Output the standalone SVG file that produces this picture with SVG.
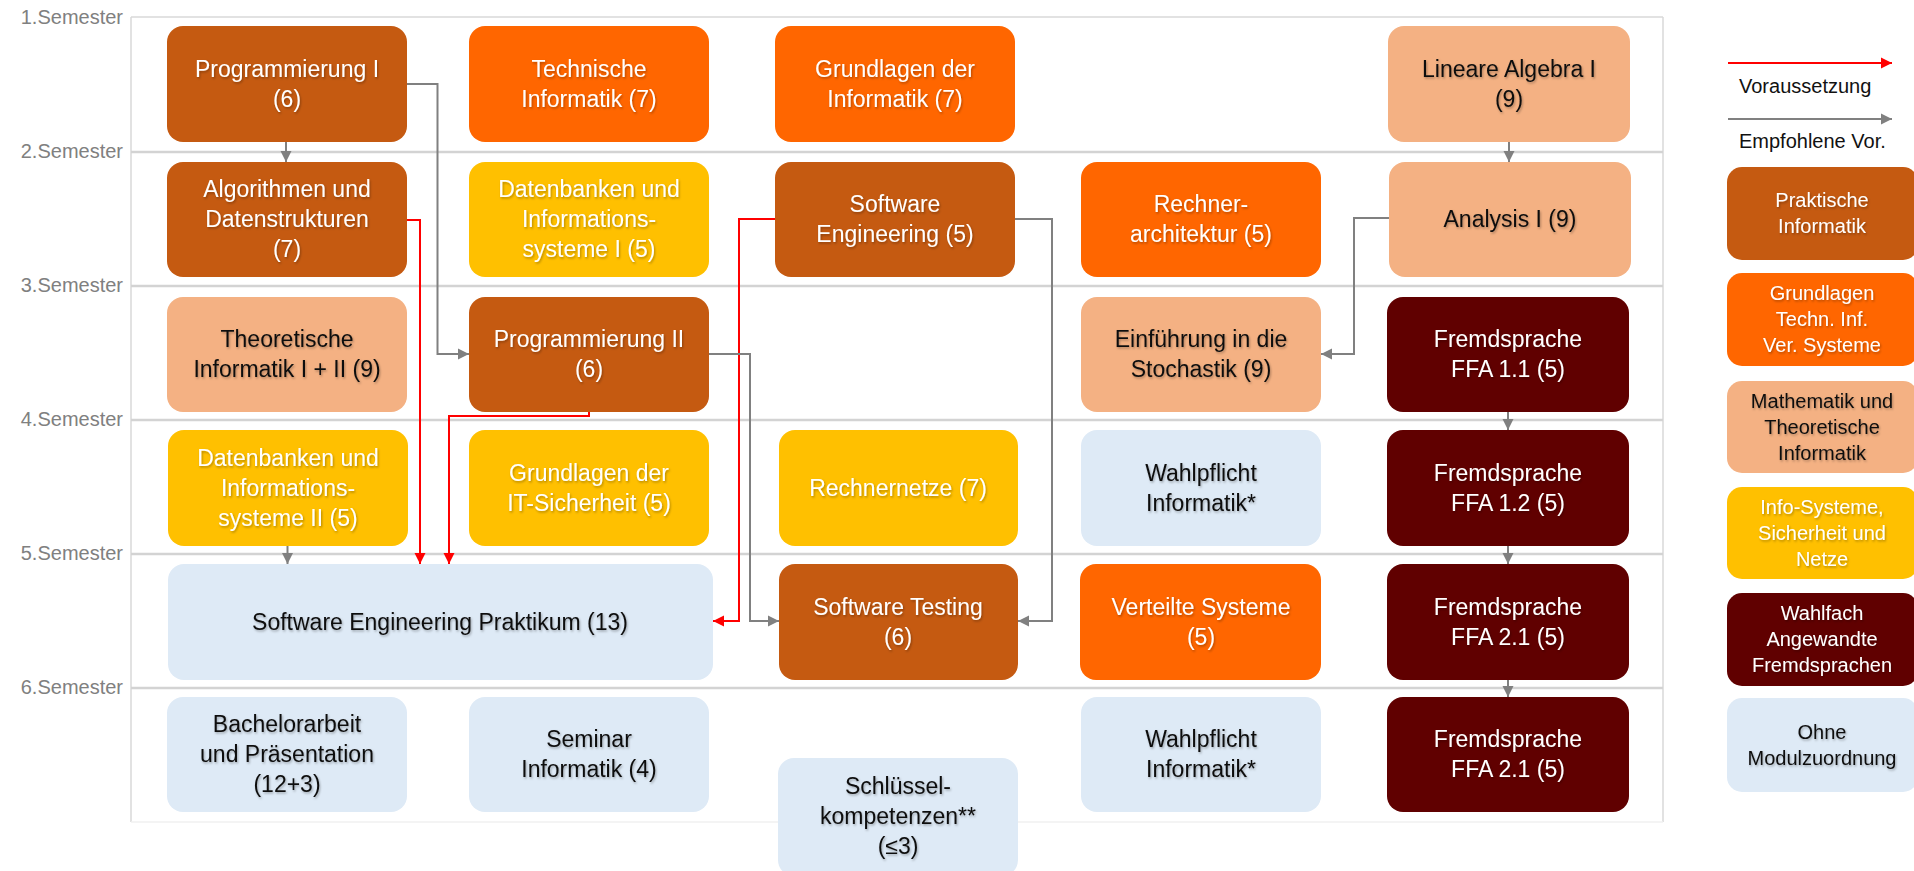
<svg xmlns="http://www.w3.org/2000/svg" width="1914" height="871" viewBox="0 0 1914 871">
<style>
.box{stroke:none}
.pi{fill:#C55A11}
.gt{fill:#FF6600}
.ma{fill:#F4B183}
.is{fill:#FFC000}
.wf{fill:#600000}
.om{fill:#DEEAF6}
text{font-family:"Liberation Sans",Arial,sans-serif;text-anchor:middle}
.t{font-size:23px;filter:url(#sh)}
.w{fill:#FFFFFF}
.k{fill:#111111}
.lg{font-size:20px}
.lb{filter:url(#sh)}
.sem{font-size:20px;fill:#808080;text-anchor:end}
.grid{stroke:#D3D3D3;stroke-width:2.5;fill:none}
.frame{stroke:#D9D9D9;stroke-width:1.5;fill:none}
.g{stroke:#808080;stroke-width:2;fill:none}
.r{stroke:#FF0000;stroke-width:2;fill:none}
</style>
<defs>
<marker id="ag" viewBox="0 0 10 10" refX="10" refY="5" markerWidth="11" markerHeight="12" markerUnits="userSpaceOnUse" orient="auto"><path d="M0,0 L10,5 L0,10 z" fill="#808080"/></marker>
<marker id="ar" viewBox="0 0 10 10" refX="10" refY="5" markerWidth="11" markerHeight="12" markerUnits="userSpaceOnUse" orient="auto"><path d="M0,0 L10,5 L0,10 z" fill="#FF0000"/></marker>
<filter id="sh" x="-5%" y="-20%" width="110%" height="150%"><feDropShadow dx="1" dy="1.5" stdDeviation="1" flood-color="#000000" flood-opacity="0.3"/></filter>
</defs>
<rect x="0" y="0" width="1914" height="871" fill="#FFFFFF"/>

<g id="grid">
<line class="frame" x1="131" y1="17" x2="1663" y2="17"/>
<line class="frame" x1="131" y1="17" x2="131" y2="822" stroke="#C8C8C8"/>
<line class="frame" x1="1663" y1="17" x2="1663" y2="822"/>
<line x1="131" y1="822" x2="1663" y2="822" stroke="#F0F0F0" stroke-width="1.5"/>
<line class="grid" x1="131" y1="152" x2="1663" y2="152"/>
<line class="grid" x1="131" y1="286" x2="1663" y2="286"/>
<line class="grid" x1="131" y1="420" x2="1663" y2="420"/>
<line class="grid" x1="131" y1="554" x2="1663" y2="554"/>
<line class="grid" x1="131" y1="688" x2="1663" y2="688"/>
<text class="sem" x="123" y="24">1.Semester</text>
<text class="sem" x="123" y="158">2.Semester</text>
<text class="sem" x="123" y="292">3.Semester</text>
<text class="sem" x="123" y="426">4.Semester</text>
<text class="sem" x="123" y="560">5.Semester</text>
<text class="sem" x="123" y="694">6.Semester</text>
</g>

<g id="connectors">
<path class="g" d="M286,142 V162" marker-end="url(#ag)"/>
<path class="g" d="M406,84 H437.5 V354 H469" marker-end="url(#ag)"/>
<path class="r" d="M407,220 H420 V564" marker-end="url(#ar)"/>
<path class="r" d="M589,412 V416 H449 V564" marker-end="url(#ar)"/>
<path class="g" d="M287.5,546 V564" marker-end="url(#ag)"/>
<path class="r" d="M775,219 H739 V621 H713" marker-end="url(#ar)"/>
<path class="g" d="M1015,219 H1052 V621 H1018" marker-end="url(#ag)"/>
<path class="g" d="M709,354 H750 V621 H779" marker-end="url(#ag)"/>
<path class="g" d="M1509,142 V162" marker-end="url(#ag)"/>
<path class="g" d="M1389,218 H1354 V354 H1321" marker-end="url(#ag)"/>
<path class="g" d="M1508,412 V430" marker-end="url(#ag)"/>
<path class="g" d="M1508,546 V564" marker-end="url(#ag)"/>
<path class="g" d="M1508,680 V697" marker-end="url(#ag)"/>
</g>

<g id="prog1"><rect class="box pi" x="167" y="26" width="240" height="116" rx="16"/><text class="t w" x="287" y="77">Programmierung I</text><text class="t w" x="287" y="107">(6)</text></g>
<g id="techinf"><rect class="box gt" x="469" y="26" width="240" height="116" rx="16"/><text class="t w" x="589" y="77">Technische</text><text class="t w" x="589" y="107">Informatik (7)</text></g>
<g id="grundinf"><rect class="box gt" x="775" y="26" width="240" height="116" rx="16"/><text class="t w" x="895" y="77">Grundlagen der</text><text class="t w" x="895" y="107">Informatik (7)</text></g>
<g id="linalg"><rect class="box ma" x="1388" y="26" width="242" height="116" rx="16"/><text class="t k" x="1509" y="77">Lineare Algebra I</text><text class="t k" x="1509" y="107">(9)</text></g>

<g id="algo"><rect class="box pi" x="167" y="162" width="240" height="115" rx="16"/><text class="t w" x="287" y="197">Algorithmen und</text><text class="t w" x="287" y="227">Datenstrukturen</text><text class="t w" x="287" y="257">(7)</text></g>
<g id="db1"><rect class="box is" x="469" y="162" width="240" height="115" rx="16"/><text class="t w" x="589" y="197">Datenbanken und</text><text class="t w" x="589" y="227">Informations-</text><text class="t w" x="589" y="257">systeme I (5)</text></g>
<g id="se"><rect class="box pi" x="775" y="162" width="240" height="115" rx="16"/><text class="t w" x="895" y="212">Software</text><text class="t w" x="895" y="242">Engineering (5)</text></g>
<g id="rechnerarch"><rect class="box gt" x="1081" y="162" width="240" height="115" rx="16"/><text class="t w" x="1201" y="212">Rechner-</text><text class="t w" x="1201" y="242">architektur (5)</text></g>
<g id="analysis"><rect class="box ma" x="1389" y="162" width="242" height="115" rx="16"/><text class="t k" x="1510" y="227">Analysis I (9)</text></g>

<g id="theoinf"><rect class="box ma" x="167" y="297" width="240" height="115" rx="16"/><text class="t k" x="287" y="347">Theoretische</text><text class="t k" x="287" y="377">Informatik I + II (9)</text></g>
<g id="prog2"><rect class="box pi" x="469" y="297" width="240" height="115" rx="16"/><text class="t w" x="589" y="347">Programmierung II</text><text class="t w" x="589" y="377">(6)</text></g>
<g id="stochastik"><rect class="box ma" x="1081" y="297" width="240" height="115" rx="16"/><text class="t k" x="1201" y="347">Einführung in die</text><text class="t k" x="1201" y="377">Stochastik (9)</text></g>
<g id="ffa11"><rect class="box wf" x="1387" y="297" width="242" height="115" rx="16"/><text class="t w" x="1508" y="347">Fremdsprache</text><text class="t w" x="1508" y="377">FFA 1.1 (5)</text></g>

<g id="db2"><rect class="box is" x="168" y="430" width="240" height="116" rx="16"/><text class="t w" x="288" y="466">Datenbanken und</text><text class="t w" x="288" y="496">Informations-</text><text class="t w" x="288" y="526">systeme II (5)</text></g>
<g id="itsich"><rect class="box is" x="469" y="430" width="240" height="116" rx="16"/><text class="t w" x="589" y="481">Grundlagen der</text><text class="t w" x="589" y="511">IT-Sicherheit (5)</text></g>
<g id="rechnernetze"><rect class="box is" x="779" y="430" width="239" height="116" rx="16"/><text class="t w" x="898" y="496">Rechnernetze (7)</text></g>
<g id="wahlpflicht1"><rect class="box om" x="1081" y="430" width="240" height="116" rx="16"/><text class="t k" x="1201" y="481">Wahlpflicht</text><text class="t k" x="1201" y="511">Informatik*</text></g>
<g id="ffa12"><rect class="box wf" x="1387" y="430" width="242" height="116" rx="16"/><text class="t w" x="1508" y="481">Fremdsprache</text><text class="t w" x="1508" y="511">FFA 1.2 (5)</text></g>

<g id="sepraktikum"><rect class="box om" x="168" y="564" width="545" height="116" rx="16"/><text class="t k" x="440" y="630">Software Engineering Praktikum (13)</text></g>
<g id="testing"><rect class="box pi" x="779" y="564" width="239" height="116" rx="16"/><text class="t w" x="898" y="615">Software Testing</text><text class="t w" x="898" y="645">(6)</text></g>
<g id="verteilt"><rect class="box gt" x="1080" y="564" width="241" height="116" rx="16"/><text class="t w" x="1201" y="615">Verteilte Systeme</text><text class="t w" x="1201" y="645">(5)</text></g>
<g id="ffa21a"><rect class="box wf" x="1387" y="564" width="242" height="116" rx="16"/><text class="t w" x="1508" y="615">Fremdsprache</text><text class="t w" x="1508" y="645">FFA 2.1 (5)</text></g>

<g id="bachelor"><rect class="box om" x="167" y="697" width="240" height="115" rx="16"/><text class="t k" x="287" y="732">Bachelorarbeit</text><text class="t k" x="287" y="762">und Präsentation</text><text class="t k" x="287" y="792">(12+3)</text></g>
<g id="seminar"><rect class="box om" x="469" y="697" width="240" height="115" rx="16"/><text class="t k" x="589" y="747">Seminar</text><text class="t k" x="589" y="777">Informatik (4)</text></g>
<g id="schluessel"><rect class="box om" x="778" y="758" width="240" height="118" rx="16"/><text class="t k" x="898" y="794">Schlüssel-</text><text class="t k" x="898" y="824">kompetenzen**</text><text class="t k" x="898" y="854">(≤3)</text></g>
<g id="wahlpflicht2"><rect class="box om" x="1081" y="697" width="240" height="115" rx="16"/><text class="t k" x="1201" y="747">Wahlpflicht</text><text class="t k" x="1201" y="777">Informatik*</text></g>
<g id="ffa21b"><rect class="box wf" x="1387" y="697" width="242" height="115" rx="16"/><text class="t w" x="1508" y="747">Fremdsprache</text><text class="t w" x="1508" y="777">FFA 2.1 (5)</text></g>

<g id="legend">
<path class="r" d="M1728,63 H1892" marker-end="url(#ar)"/>
<text class="lg k" x="1739" y="93" style="text-anchor:start">Voraussetzung</text>
<path class="g" d="M1728,119 H1892" marker-end="url(#ag)"/>
<text class="lg k" x="1739" y="148" style="text-anchor:start">Empfohlene Vor.</text>
<g id="lg-pi"><rect class="box pi" x="1727" y="167" width="191" height="93" rx="15"/><text class="lg lb w" x="1822" y="207">Praktische</text><text class="lg lb w" x="1822" y="233">Informatik</text></g>
<g id="lg-gt"><rect class="box gt" x="1727" y="273" width="191" height="93" rx="15"/><text class="lg lb w" x="1822" y="300">Grundlagen</text><text class="lg lb w" x="1822" y="326">Techn. Inf.</text><text class="lg lb w" x="1822" y="352">Ver. Systeme</text></g>
<g id="lg-ma"><rect class="box ma" x="1727" y="381" width="191" height="92" rx="15"/><text class="lg lb k" x="1822" y="408">Mathematik und</text><text class="lg lb k" x="1822" y="434">Theoretische</text><text class="lg lb k" x="1822" y="460">Informatik</text></g>
<g id="lg-is"><rect class="box is" x="1727" y="487" width="191" height="92" rx="15"/><text class="lg lb w" x="1822" y="514">Info-Systeme,</text><text class="lg lb w" x="1822" y="540">Sicherheit und</text><text class="lg lb w" x="1822" y="566">Netze</text></g>
<g id="lg-wf"><rect class="box wf" x="1727" y="593" width="191" height="93" rx="15"/><text class="lg lb w" x="1822" y="620">Wahlfach</text><text class="lg lb w" x="1822" y="646">Angewandte</text><text class="lg lb w" x="1822" y="672">Fremdsprachen</text></g>
<g id="lg-om"><rect class="box om" x="1727" y="698" width="191" height="94" rx="15"/><text class="lg lb k" x="1822" y="739">Ohne</text><text class="lg lb k" x="1822" y="765">Modulzuordnung</text></g>
</g>
</svg>
